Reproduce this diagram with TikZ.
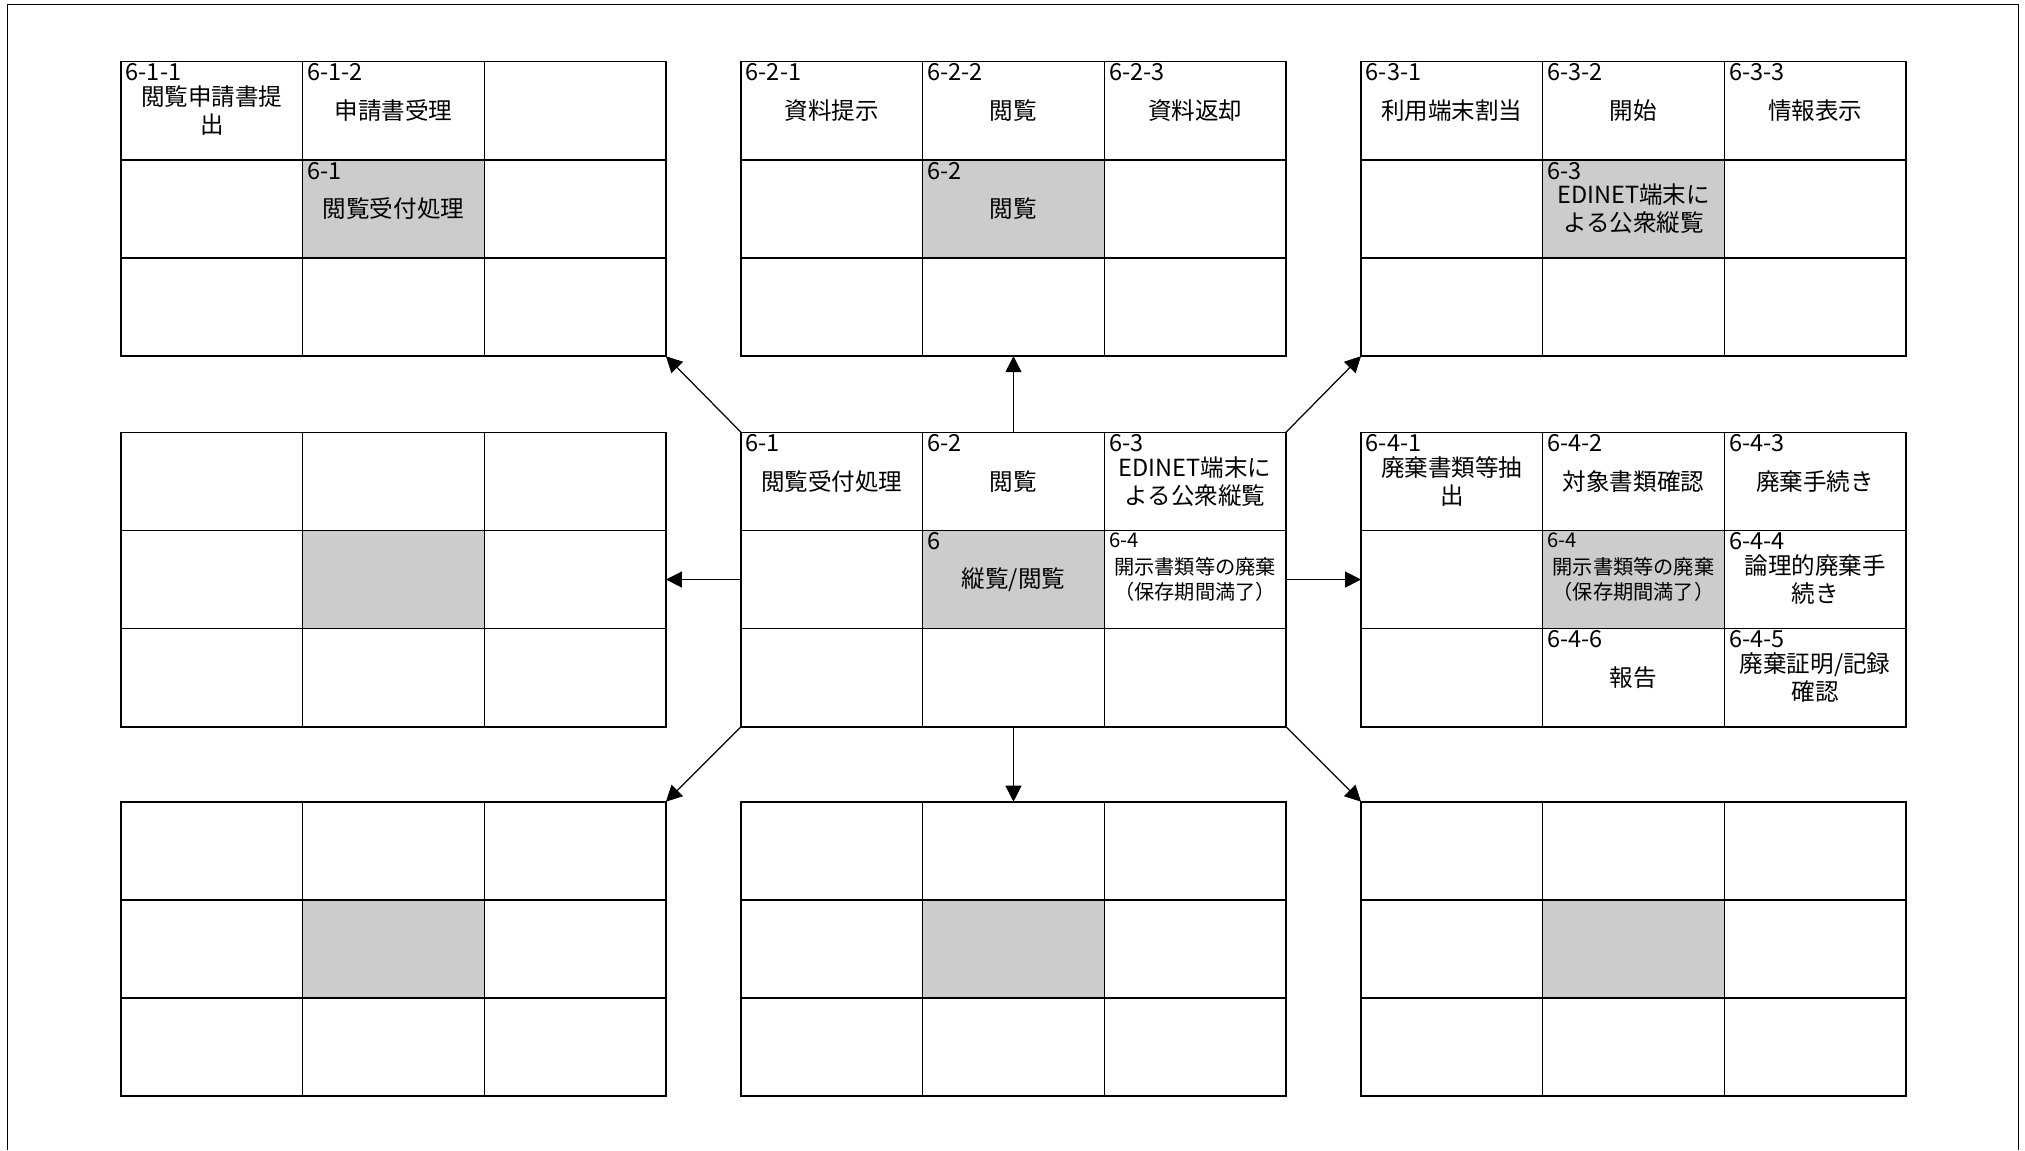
\documentclass[tikz,border=0pt]{standalone}
\usepackage{fontspec}
\setmainfont{Noto Sans CJK JP}
\usetikzlibrary{arrows.meta}

\tikzset{
    cell/.style={draw, line width=0.9pt, minimum width=3.633cm, minimum height=1.963cm, inner sep=0pt, outer sep=0pt},
    num/.style={anchor=north west, inner xsep=2.5pt, inner ysep=1pt, font=\fontsize{13.4}{16}\selectfont},
    txt/.style={align=center, inner sep=0pt, font=\fontsize{13.4}{16}\selectfont},
    smallnum/.style={num, font=\fontsize{11.5}{14}\selectfont},
    smalltxt/.style={txt, font=\fontsize{11.5}{14}\selectfont},
    link/.style={-{Triangle[length=0.32cm,width=0.32cm]}, line width=0.7pt},
}

\begin{document}
\begin{tikzpicture}
    \useasboundingbox (0,0) rectangle (40.5,-23);
    \def\mgrid#1#2{
        \begin{scope}[shift={(#2)}]
            \foreach \r in {1,2,3}{
                \foreach \c in {1,2,3}{
                    \ifnum\r\c=22 \def\cf{black!20}\else\def\cf{none}\fi
                    \node[cell, fill=\cf] (#1-\r\c) at ({(\c-0.5)*3.633},{-(\r-0.5)*1.963}) {};
                }
            }
        \end{scope}
    }
    \def\cellt#1#2#3{
        \node[num] (#1-n) at (#1.north west) {#2};
        \node[txt] (#1-t) at (#1) {#3};
    }
    \def\cellsm#1#2#3{
        \node[smallnum] (#1-n) at (#1.north west) {#2};
        \node[smalltxt] (#1-t) at (#1) {#3};
    }

    % Frame
    \draw[line width=0.9pt] (0.15,-23) |- (40.37,-0.094) -- (40.37,-23);

    % Grids
    \mgrid{acpt}{2.42,-1.234}
    \mgrid{read}{14.82,-1.234}
    \mgrid{term}{27.22,-1.234}
    \mgrid{wl}{2.42,-8.646}
    \mgrid{core}{14.82,-8.646}
    \mgrid{disp}{27.22,-8.646}
    \mgrid{sw}{2.42,-16.034}
    \mgrid{s}{14.82,-16.034}
    \mgrid{se}{27.22,-16.034}

    % 6-1
    \cellt{acpt-11}{6-1-1}{閲覧申請書提\\出}
    \cellt{acpt-12}{6-1-2}{申請書受理}
    \cellt{acpt-22}{6-1}{閲覧受付処理}

    % 6-2
    \cellt{read-11}{6-2-1}{資料提示}
    \cellt{read-12}{6-2-2}{閲覧}
    \cellt{read-13}{6-2-3}{資料返却}
    \cellt{read-22}{6-2}{閲覧}

    % 6-3
    \cellt{term-11}{6-3-1}{利用端末割当}
    \cellt{term-12}{6-3-2}{開始}
    \cellt{term-13}{6-3-3}{情報表示}
    \cellt{term-22}{6-3}{EDINET端末に\\よる公衆縦覧}

    % 6
    \cellt{core-11}{6-1}{閲覧受付処理}
    \cellt{core-12}{6-2}{閲覧}
    \cellt{core-13}{6-3}{EDINET端末に\\よる公衆縦覧}
    \cellt{core-22}{6}{縦覧/閲覧}
    \cellsm{core-23}{6-4}{開示書類等の廃棄\\（保存期間満了）}

    % 6-4
    \cellt{disp-11}{6-4-1}{廃棄書類等抽\\出}
    \cellt{disp-12}{6-4-2}{対象書類確認}
    \cellt{disp-13}{6-4-3}{廃棄手続き}
    \cellsm{disp-22}{6-4}{開示書類等の廃棄\\（保存期間満了）}
    \cellt{disp-23}{6-4-4}{論理的廃棄手\\続き}
    \cellt{disp-32}{6-4-6}{報告}
    \cellt{disp-33}{6-4-5}{廃棄証明/記録\\確認}

    % Links
    \draw[link] (core-11.north west) -- (acpt-33.south east);
    \draw[link] (core-12.north) -- (read-32.south);
    \draw[link] (core-13.north east) -- (term-31.south west);
    \draw[link] (core-21.west) -- (wl-23.east);
    \draw[link] (core-23.east) -- (disp-21.west);
    \draw[link] (core-31.south west) -- (sw-13.north east);
    \draw[link] (core-32.south) -- (s-12.north);
    \draw[link] (core-33.south east) -- (se-11.north west);
\end{tikzpicture}
\end{document}
